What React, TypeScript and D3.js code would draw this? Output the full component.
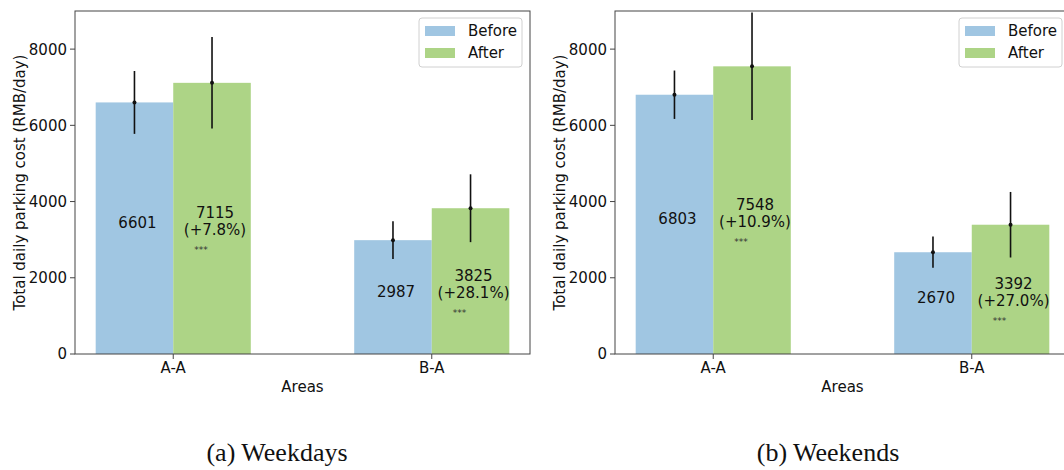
import React from "react";
import * as d3 from "d3";

const categories = ["A-A", "B-A"];
const seriesNames = ["Before", "After"];
const yTicks = [0, 2000, 4000, 6000, 8000];

const weekdayBefore = [6601, 2987];
const weekdayAfter = [7115, 3825];
const weekdayBeforeErr = [825, 495];
const weekdayAfterErr = [1200, 890];
const weekdayChange = ["+7.8%", "+28.1%"];

const weekendBefore = [6803, 2670];
const weekendAfter = [7548, 3392];
const weekendBeforeErr = [635, 410];
const weekendAfterErr = [1410, 860];
const weekendChange = ["+10.9%", "+27.0%"];

const captions = ["(a) Weekdays", "(b) Weekends"];
const colors = ["#a0c6e2", "#add486"];
const FONT = "DejaVu Sans, sans-serif";

type PanelProps = {
  offsetX: number;
  before: number[];
  after: number[];
  beforeErr: number[];
  afterErr: number[];
  change: string[];
  caption: string;
  captionX: number;
  id: string;
};

function Panel(p: PanelProps) {
  const x0 = 75 + p.offsetX;
  const w = 455;
  const top = 11;
  const bottom = 354;
  const x = d3.scaleLinear().domain([-0.38, 1.38]).range([x0, x0 + w]);
  const y = d3.scaleLinear().domain([0, 9000]).range([bottom, top]);
  const bw = x(0.3) - x(0);
  const clipId = "clip-" + p.id;
  const series = [
    { vals: p.before, errs: p.beforeErr, off: -0.15 },
    { vals: p.after, errs: p.afterErr, off: 0.15 },
  ];
  return (
    <g>
      <defs>
        <clipPath id={clipId}>
          <rect x={x0} y={top} width={w} height={bottom - top} />
        </clipPath>
      </defs>
      <g clipPath={`url(#${clipId})`}>
        {series.map((s, si) =>
          categories.map((c, i) => (
            <rect
              key={`b${si}-${i}`}
              x={x(i + s.off) - bw / 2}
              y={y(s.vals[i])}
              width={bw}
              height={y(0) - y(s.vals[i])}
              fill={colors[si]}
            />
          ))
        )}
        {series.map((s, si) =>
          categories.map((c, i) => (
            <g key={`e${si}-${i}`}>
              <line
                x1={x(i + s.off)}
                x2={x(i + s.off)}
                y1={y(s.vals[i] - s.errs[i])}
                y2={y(s.vals[i] + s.errs[i])}
                stroke="#111"
                strokeWidth={1.6}
              />
              <circle cx={x(i + s.off)} cy={y(s.vals[i])} r={2} fill="#111" />
            </g>
          ))
        )}
      </g>
      {categories.map((c, i) => (
        <g key={`t${i}`} fontFamily={FONT} fill="#111">
          <text x={x(i - 0.15) + 3} y={y(p.before[i] / 2)} fontSize={15} textAnchor="middle">
            {p.before[i]}
          </text>
          <text x={x(i + 0.15) + 3} y={y(p.after[i] / 2)} fontSize={15} textAnchor="middle">
            {p.after[i]}
          </text>
          <text x={x(i + 0.15) + 3} y={y(p.after[i] / 2) + 17} fontSize={15} textAnchor="middle">
            {`(${p.change[i]})`}
          </text>
          <text x={x(i + 0.15) - 11} y={y(p.after[i] / 2) + 35} fontSize={9} textAnchor="middle" fill="#333">
            ***
          </text>
        </g>
      ))}
      {/* spines */}
      <rect x={x0} y={top} width={w} height={bottom - top} fill="none" stroke="#444" strokeWidth={1} />
      {/* y ticks */}
      {yTicks.map((t) => (
        <g key={`yt${t}`}>
          <line x1={x0 - 5} x2={x0} y1={y(t)} y2={y(t)} stroke="#444" strokeWidth={1} />
          <text
            x={x0 - 8}
            y={y(t)}
            dy="0.36em"
            textAnchor="end"
            fontFamily={FONT}
            fontSize={15}
            fill="#111"
          >
            {t}
          </text>
        </g>
      ))}
      {categories.map((c, i) => (
        <g key={`xt${i}`}>
          <line x1={x(i)} x2={x(i)} y1={bottom} y2={bottom + 5} stroke="#444" strokeWidth={1} />
          <text x={x(i)} y={bottom + 19} textAnchor="middle" fontFamily={FONT} fontSize={15} fill="#111">
            {c}
          </text>
        </g>
      ))}
      <text x={x0 + w / 2} y={bottom + 38} textAnchor="middle" fontFamily={FONT} fontSize={15} fill="#111">
        Areas
      </text>
      <text
        transform={`translate(${x0 - 50},${(top + bottom) / 2}) rotate(-90)`}
        textAnchor="middle"
        fontFamily={FONT}
        fontSize={15}
        fill="#111"
      >
        Total daily parking cost (RMB/day)
      </text>
      {/* legend */}
      <g>
        <rect x={x0 + 344} y={18} width={103} height={49} rx={3} fill="#fff" fillOpacity={0.8} stroke="#d0d0d0" strokeWidth={1} />
        {seriesNames.map((n, k) => (
          <g key={n}>
            <rect x={x0 + 350} y={26 + k * 22} width={30} height={10} fill={colors[k]} />
            <text x={x0 + 393} y={31 + k * 22} dy="0.36em" fontFamily={FONT} fontSize={15} fill="#111">
              {n}
            </text>
          </g>
        ))}
      </g>
      <text
        x={p.captionX}
        y={461}
        textAnchor="middle"
        fontFamily="Liberation Serif, Times New Roman, serif"
        fontSize={26}
        fill="#111"
      >
        {p.caption}
      </text>
    </g>
  );
}

export default function App() {
  return (
    <svg
      width={1064}
      height={470}
      style={{ position: "absolute", left: 0, top: 0, background: "#fff" }}
    >
      <rect x={0} y={0} width={1064} height={470} fill="#fff" />
      <Panel
        id="a"
        offsetX={0}
        before={weekdayBefore}
        after={weekdayAfter}
        beforeErr={weekdayBeforeErr}
        afterErr={weekdayAfterErr}
        change={weekdayChange}
        caption={captions[0]}
        captionX={277}
      />
      <Panel
        id="b"
        offsetX={540}
        before={weekendBefore}
        after={weekendAfter}
        beforeErr={weekendBeforeErr}
        afterErr={weekendAfterErr}
        change={weekendChange}
        caption={captions[1]}
        captionX={828}
      />
    </svg>
  );
}
